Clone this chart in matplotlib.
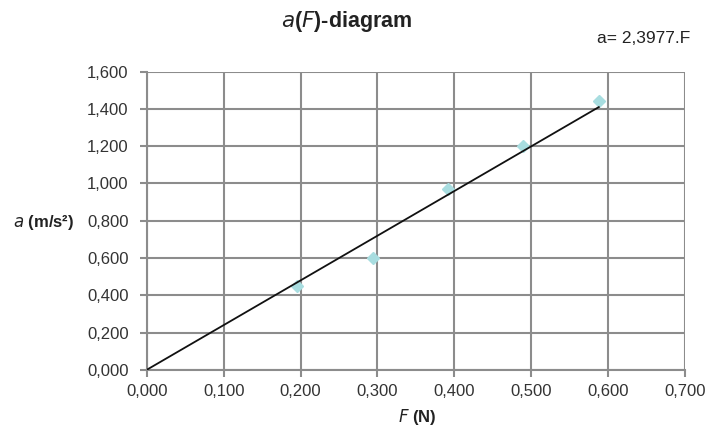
import numpy as np
import matplotlib.pyplot as plt
from matplotlib.ticker import FuncFormatter

plt.rcParams['font.family'] = ['Liberation Sans', 'DejaVu Sans']

# meetwaarden
F = [0.196, 0.294, 0.392, 0.490, 0.588]
a = [0.45, 0.60, 0.97, 1.20, 1.44]
slope = 2.3977
xticks = [0.0, 0.1, 0.2, 0.3, 0.4, 0.5, 0.6, 0.7]
yticks = [0.0, 0.2, 0.4, 0.6, 0.8, 1.0, 1.2, 1.4, 1.6]

fig = plt.figure(figsize=(7.09, 4.29), dpi=100)
ax = fig.add_axes([0.207, 0.138, 0.759, 0.695])

# trendlijn door oorsprong
xl = np.array([0.0, max(F)])
ax.plot(xl, slope * xl, color='#111111', lw=1.3, zorder=3)
ax.plot(F, a, linestyle='none', marker='D', markersize=6.2, color='#a8dde0',
        markeredgecolor='#a8dde0', zorder=2)

ax.set_xlim(0, 0.7)
ax.set_ylim(0, 1.6)
ax.set_xticks(xticks)
ax.set_yticks(yticks)
fmt = FuncFormatter(lambda v, p: ('%.3f' % v).replace('.', ','))
ax.xaxis.set_major_formatter(fmt)
ax.yaxis.set_major_formatter(fmt)
ax.grid(True, color='#8c8c8c', lw=1.5)
ax.set_axisbelow(True)
for s in ['top', 'right']:
    ax.spines[s].set_visible(False)
for s in ['left', 'bottom']:
    ax.spines[s].set_color('#8c8c8c')
    ax.spines[s].set_linewidth(1.5)
ax.tick_params(direction='out', length=5, width=1.5, color='#8c8c8c',
               labelsize=12, labelcolor='#333333')
ax.tick_params(axis='y', pad=8)
ax.tick_params(axis='x', pad=5)

fig.text(0.588, 0.029, r'$\mathit{F}$ (N)', fontsize=12, fontweight='bold',
         color='#222222', ha='center', va='center')
fig.text(0.018, 0.482, r'$\mathit{a}$ (m/s²)', fontsize=12, fontweight='bold',
         color='#222222', va='center', ha='left')
fig.text(0.489, 0.951, r'$\mathit{a}$($\mathit{F}$)-diagram', fontsize=15.5,
         fontweight='bold', color='#222222', ha='center', va='center')
fig.text(0.842, 0.911, 'a= 2,3977.F', fontsize=12.5, color='#222222',
         ha='left', va='center')

plt.savefig('out.png', dpi=100)
